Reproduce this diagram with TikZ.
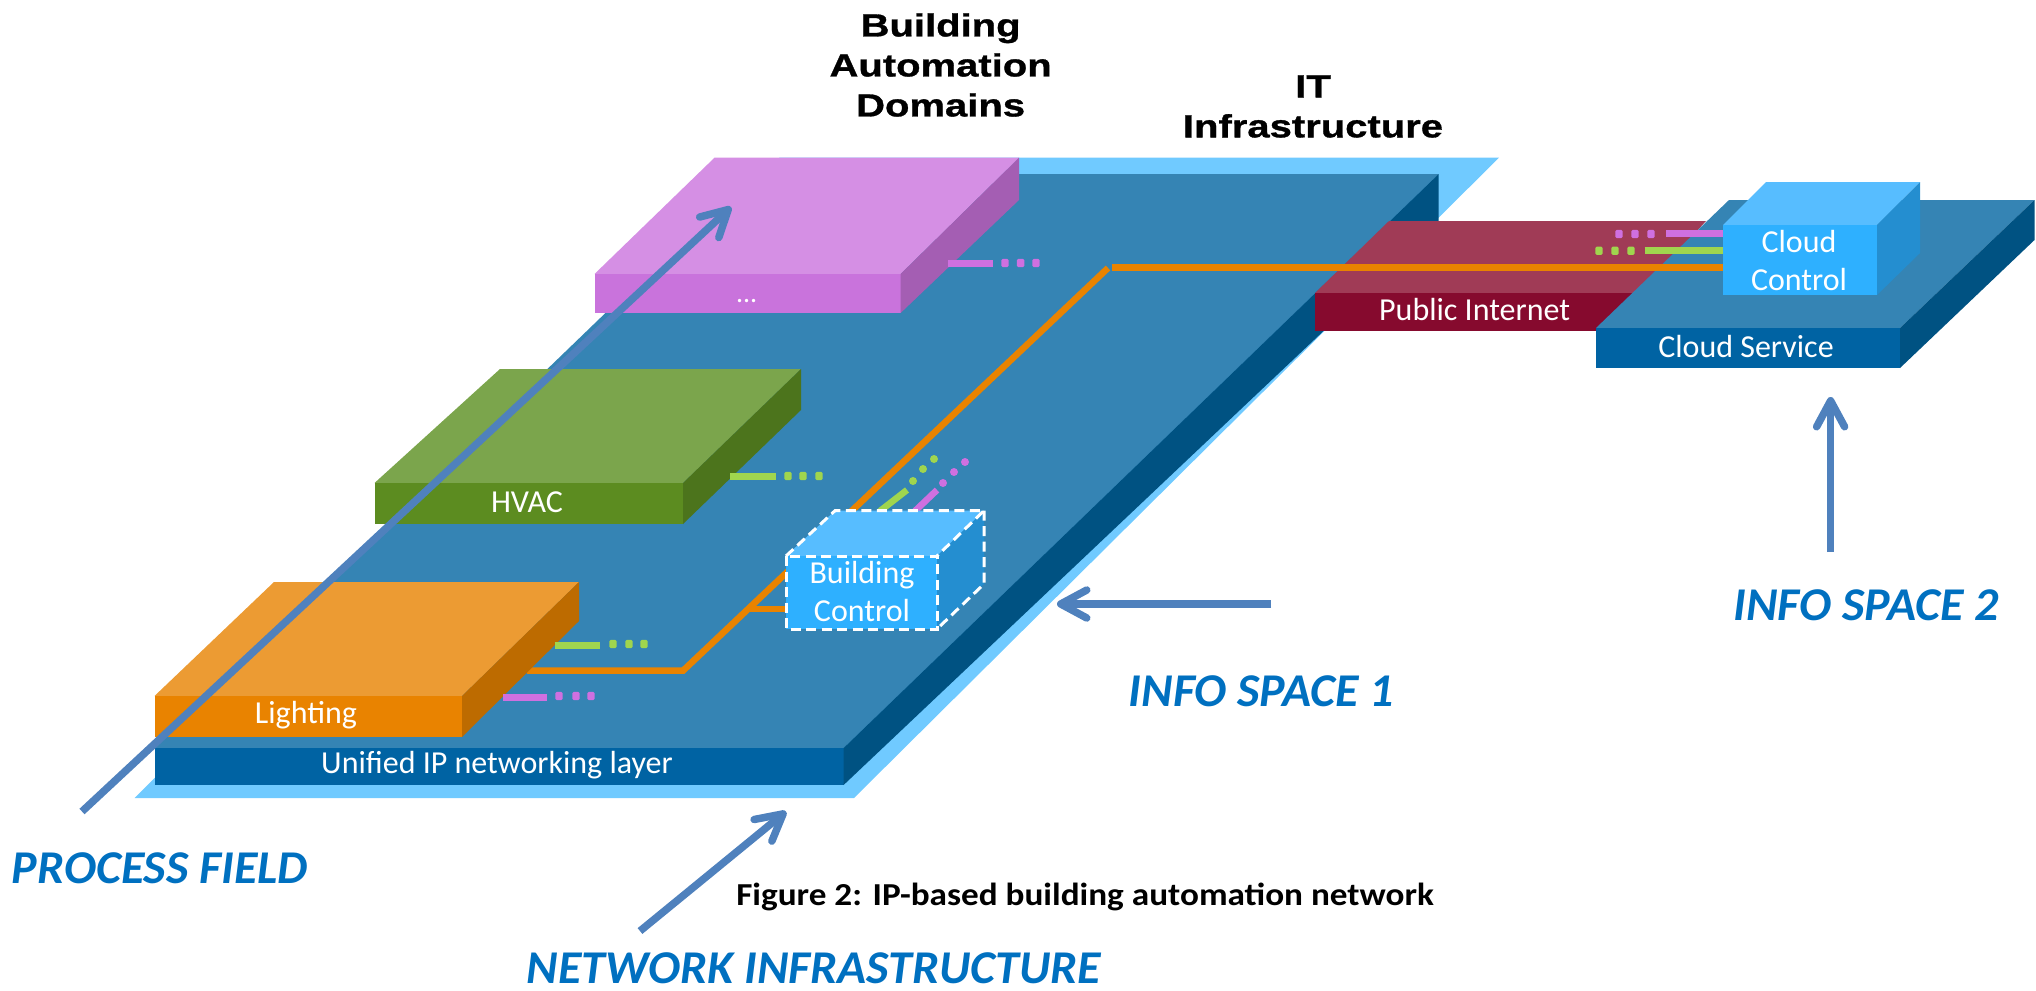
\documentclass[tikz,border=0pt]{standalone}
\usepackage{fontspec}
\setmainfont{Carlito}
\newfontfamily\headfont[UprightFont=* Bold,FakeStretch=1.25,FakeBold=1]{Liberation Sans}
\usetikzlibrary{arrows.meta}
\definecolor{baseLight}{HTML}{70CAFF}
\definecolor{netTop}{HTML}{3584B4}
\definecolor{netFront}{HTML}{0063A3}
\definecolor{netSide}{HTML}{005282}
\definecolor{lightTop}{HTML}{EC9B33}
\definecolor{lightFront}{HTML}{E98300}
\definecolor{lightSide}{HTML}{BD6B00}
\definecolor{hvacTop}{HTML}{7BA54C}
\definecolor{hvacFront}{HTML}{5C8C20}
\definecolor{hvacSide}{HTML}{4C741C}
\definecolor{purTop}{HTML}{D58FE4}
\definecolor{purFront}{HTML}{C973DC}
\definecolor{purSide}{HTML}{A45EB3}
\definecolor{boxTop}{HTML}{57BDFF}
\definecolor{boxFront}{HTML}{2EB0FF}
\definecolor{boxSide}{HTML}{248ED0}
\definecolor{redTop}{HTML}{A03B56}
\definecolor{redFront}{HTML}{860A2E}
\definecolor{arrowBlue}{HTML}{4F81BD}
\definecolor{labelBlue}{HTML}{0070C0}
\definecolor{stubGreen}{HTML}{A0D54E}
\definecolor{stubPurple}{HTML}{CF70E0}
\tikzset{
  inlabel/.style={text=white,font=\fontsize{32}{38}\selectfont,align=center,inner sep=0pt},
  spacelabel/.style={text=labelBlue,font=\fontsize{47}{52}\selectfont\bfseries\itshape\addfontfeature{FakeStretch=1.02},inner sep=0pt},
  headlabel/.style={text=black,font=\headfont\fontsize{32}{40}\selectfont,align=center,inner sep=0pt},
  bigarrow/.style={draw=arrowBlue,line width=7.5pt,-{Straight Barb[length=26pt,width=28pt,round]}},
  orangeline/.style={draw=lightFront,line width=6.5pt},
  stub/.style={line width=7pt},
  diagstub/.style={line width=6.5pt},
  dashedge/.style={draw=white,line width=3pt,dash pattern=on 10pt off 5.5pt},
}
\newcommand{\hdots}[4]{\foreach \dx in {#1,#2,#3}{\fill[#4,rounded corners=1.5pt] (\dx-3.7,\ydot-4.2) rectangle (\dx+3.7,\ydot+4.2);}}
\begin{document}
\begin{tikzpicture}[x=1pt,y=-1pt]
\useasboundingbox (0,0) rectangle (2036,990);
% base plate
\fill[baseLight] (134.5,798) -- (854,798) -- (1499,157.7) -- (779.5,157.7) -- cycle;
% network layer
\fill[netTop] (154.5,748) -- (843.6,748) -- (1438.7,174) -- (749.5,174) -- cycle;
\fill[netFront] (154.5,748) rectangle (843.6,785);
\fill[netSide] (843.6,748) -- (1438.7,174) -- (1438.7,222) -- (843.6,785) -- cycle;
% public internet
\fill[redTop] (1315,293) -- (1389,221) -- (1706,221) -- (1640,293) -- cycle;
\fill[redFront] (1315,293) rectangle (1640,331);
% cloud service
\fill[netTop] (1596,328) -- (1729,200) -- (2034.5,200) -- (1900,328) -- cycle;
\fill[netFront] (1596,328) rectangle (1900,368);
\fill[netSide] (1900,328) -- (2034.5,200) -- (2034.5,240) -- (1900,368) -- cycle;
% purple domain
\fill[purTop] (594.5,274) -- (714.5,157.7) -- (1019,157.7) -- (900.6,274) -- cycle;
\fill[purFront] (594.5,274) rectangle (900.6,313);
\fill[purSide] (900.6,274) -- (1019,157.7) -- (1019,200) -- (900.6,313) -- cycle;
% HVAC
\fill[hvacTop] (374.5,483) -- (500,369) -- (801,369) -- (683,483) -- cycle;
\fill[hvacFront] (374.5,483) rectangle (683,524);
\fill[hvacSide] (683,483) -- (801,369) -- (801,410) -- (683,524) -- cycle;
% orange connection
\coordinate (oA) at (527,670.7);
\coordinate (oB) at (683,670.7);
\coordinate (oC) at (1108,268);
\coordinate (oD) at (1723,267.3);
\coordinate (oJ) at (748,609);
\coordinate (oE) at (786,609);
\draw[orangeline] (oA) -- (oB) -- (oC);
\draw[orangeline] (1111.5,267.3) -- (oD);
\draw[orangeline] (oJ) -- (oE);
% lighting
\fill[lightTop] (154.5,696) -- (274,582) -- (579,582) -- (462,696) -- cycle;
\fill[lightFront] (154.5,696) rectangle (462,737);
\fill[lightSide] (462,696) -- (579,582) -- (579,621) -- (462,737) -- cycle;
% stubs
\draw[stub,stubGreen] (554.5,645) -- (600,645);
\def\ydot{644}\hdots{613}{629}{644}{stubGreen}
\draw[stub,stubPurple] (503,697) -- (547,697);
\def\ydot{696}\hdots{559}{576}{591}{stubPurple}
\draw[stub,stubGreen] (730,476) -- (776,476);
\def\ydot{476}\hdots{788}{803}{819}{stubGreen}
\draw[stub,stubPurple] (948,263) -- (993,263);
\def\ydot{263}\hdots{1005}{1020.6}{1036}{stubPurple}
\draw[stub,stubPurple] (1666,233) -- (1723,233);
\def\ydot{234}\hdots{1619}{1635}{1651}{stubPurple}
\draw[stub,stubGreen] (1644.5,250.7) -- (1723,250.7);
\def\ydot{250.7}\hdots{1599}{1615}{1631}{stubGreen}
% diagonal stubs
\draw[diagstub,stubGreen] (880,511) -- (907,490);
\foreach \p in {(913,481),(923,469),(934,459)} \fill[stubGreen] \p circle (4);
\draw[diagstub,stubPurple] (915,511) -- (937,490);
\foreach \p in {(943,483),(954,472),(965,462)} \fill[stubPurple] \p circle (4);
% building control
\fill[boxTop] (786,556) -- (835,510.7) -- (984,510.7) -- (938,556) -- cycle;
\fill[boxFront] (786,556) rectangle (937,629);
\fill[boxSide] (937,556) -- (984,510.7) -- (984,584) -- (937,629) -- cycle;
\draw[dashedge] (786,556) rectangle (937,629);
\draw[dashedge] (786,556) -- (835,510.7) -- (984,510.7) -- (937,556);
\draw[dashedge] (984,510.7) -- (984,584) -- (937,629);
% cloud control
\fill[boxTop] (1723,225) -- (1766,182) -- (1920,182) -- (1877,225) -- cycle;
\fill[boxFront] (1723,225) rectangle (1877,295);
\fill[boxSide] (1877,225) -- (1920,182) -- (1920,253) -- (1877,295) -- cycle;
% in-shape labels
\node[inlabel] (lblLighting) at (306,715) {Lighting};
\node[inlabel] (lblLayer) at (497,765) {Unified IP networking layer};
\node[inlabel] (lblHvac) at (527,502) {HVAC};
\node[inlabel,font=\fontsize{28}{32}\selectfont] (lblDots) at (746.6,301) {...};
\node[inlabel] (lblBuilding) at (862,592) {Building\\Control};
\node[inlabel] (lblCloud) at (1799,260.5) {Cloud\\Control};
\node[inlabel] (lblInternet) at (1474.6,310) {Public Internet};
\node[inlabel] (lblService) at (1746,347) {Cloud Service};
% headings
\node[headlabel] (headBAD) at (940.6,65) {Building\\Automation\\Domains};
\node[headlabel] (headIT) at (1313,106.5) {IT\\Infrastructure};
% blue arrows
\coordinate (pfS) at (82,811.5);
\coordinate (pfE) at (731,207);
\coordinate (niS) at (640,931);
\coordinate (niE) at (786,811.5);
\coordinate (i1S) at (1271,604);
\coordinate (i1E) at (1057,604);
\coordinate (i2S) at (1830.6,552);
\coordinate (i2E) at (1830.6,397);
\draw[bigarrow] (pfS) -- (pfE);
\draw[bigarrow] (niS) -- (niE);
\draw[bigarrow] (i1S) -- (i1E);
\draw[bigarrow] (i2S) -- (i2E);
% outer labels
\node[spacelabel] (lblPF) at (160,868) {PROCESS FIELD};
\node[spacelabel] (lblNI) at (814,968) {NETWORK INFRASTRUCTURE};
\node[spacelabel] (lblI1) at (1261.5,691) {INFO SPACE 1};
\node[spacelabel] (lblI2) at (1866,605) {INFO SPACE 2};
\node[text=black,inner sep=0pt,font=\bfseries\fontsize{32}{36}\selectfont\addfontfeature{FakeStretch=1.1}] (lblFig) at (1085,897) {Figure 2: IP-based building automation network};
\end{tikzpicture}
\end{document}
